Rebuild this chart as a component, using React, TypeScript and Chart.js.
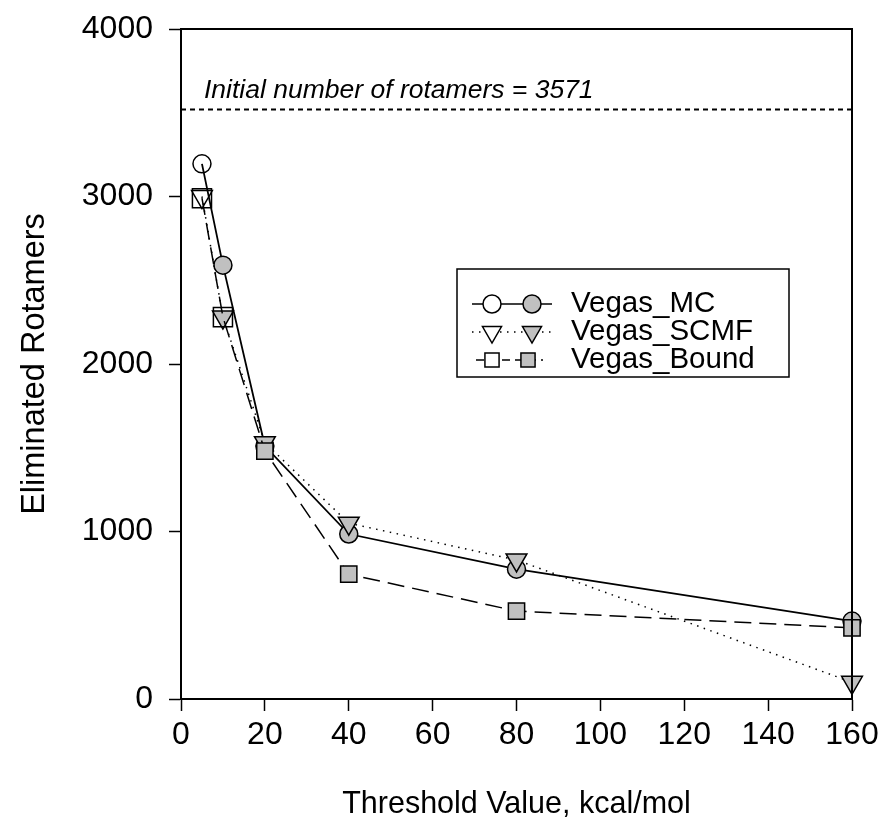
import React, { useEffect, useRef } from 'react';
import { Chart, registerables } from 'chart.js';

Chart.register(...registerables);

// ---- data ----
const thresholds = [5, 10, 20, 40, 80, 160];
const vegasMC = [3195, 2590, 1510, 985, 775, 465];
const vegasSCMF = [3000, 2280, 1530, 1050, 830, 100];
const vegasBound = [2990, 2280, 1480, 745, 525, 425];
const seriesNames = ['Vegas_MC', 'Vegas_SCMF', 'Vegas_Bound'];
const initialLevel = 3520;
const initialLabel = 'Initial number of rotamers = 3571';
const xRange = [0, 160];
const yRange = [0, 4000];
const xStep = 20;
const yStep = 1000;
const xTitle = 'Threshold Value, kcal/mol';
const yTitle = 'Eliminated Rotamers';

const FONT = '"Liberation Sans", Arial, Helvetica, sans-serif';
const GRAY = '#c0c0c0';
const NONE = 'rgba(0,0,0,0)';

function drawMarker(ctx: CanvasRenderingContext2D, style: string, x: number, y: number, r: number, fill: string) {
  ctx.save();
  ctx.beginPath();
  if (style === 'circle') {
    ctx.arc(x, y, r, 0, Math.PI * 2);
  } else if (style === 'rect') {
    const s = r * Math.SQRT1_2;
    ctx.rect(x - s, y - s, 2 * s, 2 * s);
  } else {
    const w = r * Math.sin(Math.PI / 3);
    ctx.moveTo(x - w, y - r / 2);
    ctx.lineTo(x + w, y - r / 2);
    ctx.lineTo(x, y + r);
    ctx.closePath();
  }
  ctx.fillStyle = fill;
  ctx.fill();
  ctx.lineWidth = 1.5;
  ctx.strokeStyle = '#000';
  ctx.stroke();
  ctx.restore();
}

const framePlugin = {
  id: 'frameAndLegend',
  afterDatasetsDraw(chart: any) {
    const { ctx, chartArea, scales } = chart;
    ctx.save();
    ctx.strokeStyle = '#000';
    ctx.lineWidth = 2;
    ctx.strokeRect(chartArea.left, chartArea.top, chartArea.right - chartArea.left, chartArea.bottom - chartArea.top);

    ctx.fillStyle = '#000';
    ctx.font = 'italic 26.5px ' + FONT;
    ctx.textAlign = 'left';
    ctx.textBaseline = 'alphabetic';
    ctx.fillText(initialLabel, chartArea.left + 23, scales.y.getPixelForValue(initialLevel) - 11);

    const bx = 457, by = 269, bw = 332, bh = 108;
    ctx.lineWidth = 1.5;
    ctx.strokeRect(bx, by, bw, bh);
    const rows = [304, 332, 360];
    const styles = ['circle', 'triangle', 'rect'];
    const radii = [9, 11, 10];
    const dashes: number[][] = [[], [1.5, 5.5], [8, 5]];
    for (let i = 0; i < 3; i++) {
      const y = rows[i];
      ctx.save();
      ctx.beginPath();
      ctx.setLineDash(dashes[i]);
      ctx.lineWidth = 1.5;
      ctx.moveTo(i === 2 ? 476 : 472, y);
      ctx.lineTo(i === 2 ? 543 : 552, y);
      ctx.stroke();
      ctx.restore();
      drawMarker(ctx, styles[i], 492, y, radii[i], '#fff');
      drawMarker(ctx, styles[i], i === 2 ? 528 : 532, y, radii[i], GRAY);
      ctx.fillStyle = '#000';
      ctx.font = '29.5px ' + FONT;
      ctx.textBaseline = 'middle';
      ctx.fillText(seriesNames[i], 571, y);
    }
    ctx.restore();
  },
};

export default function App() {
  const ref = useRef<HTMLCanvasElement | null>(null);

  useEffect(() => {
    document.body.style.margin = '0';
    const canvas = ref.current;
    if (!canvas) return;

    const toPts = (ys: number[]) => thresholds.map((x, i) => ({ x, y: ys[i] }));

    const chart = new Chart(canvas, {
      type: 'line',
      data: {
        datasets: [
          {
            label: seriesNames[2],
            data: toPts(vegasBound),
            order: 0,
            borderColor: '#000',
            borderWidth: 1.5,
            borderDash: [17, 8],
            pointStyle: 'rect',
            pointRadius: (c: any) => (c.dataIndex < 2 ? 13.5 : 11.5),
            pointBackgroundColor: (c: any) => (c.dataIndex < 2 ? NONE : GRAY),
            pointBorderColor: '#000',
            pointBorderWidth: 1.5,
            clip: false as any,
            tension: 0,
          },
          {
            label: seriesNames[1],
            data: toPts(vegasSCMF),
            order: 1,
            borderColor: '#000',
            borderWidth: 1.5,
            borderDash: [1.5, 5.5],
            pointStyle: 'triangle',
            rotation: 180,
            pointRadius: 12,
            pointBackgroundColor: (c: any) => (c.dataIndex === 0 ? NONE : GRAY),
            pointBorderColor: '#000',
            pointBorderWidth: 1.5,
            clip: false as any,
            tension: 0,
          },
          {
            label: seriesNames[0],
            data: toPts(vegasMC),
            order: 2,
            borderColor: '#000',
            borderWidth: 1.8,
            pointStyle: 'circle',
            pointRadius: 9,
            pointBackgroundColor: (c: any) => (c.dataIndex === 0 ? NONE : GRAY),
            pointBorderColor: '#000',
            pointBorderWidth: 1.5,
            clip: false as any,
            tension: 0,
          },
          {
            label: 'initial',
            data: [
              { x: xRange[0], y: initialLevel },
              { x: xRange[1], y: initialLevel },
            ],
            order: 3,
            borderColor: '#000',
            borderWidth: 2,
            borderDash: [5, 4],
            pointRadius: 0,
          },
        ],
      },
      options: {
        animation: false,
        responsive: false,
        events: [],
        layout: { padding: { top: 29, right: 37, left: 0, bottom: 0 } },
        plugins: {
          legend: { display: false },
          tooltip: { enabled: false },
        },
        scales: {
          x: {
            type: 'linear',
            min: xRange[0],
            max: xRange[1],
            afterFit: (s: any) => { s.height = 124; s.paddingLeft = 0; s.paddingRight = 0; },
            ticks: { stepSize: xStep, color: '#000', font: { family: FONT, size: 32 }, padding: 5, maxRotation: 0, callback: (v: any) => String(v) },
            grid: { drawOnChartArea: false, drawTicks: true, tickLength: 12, tickColor: '#000', tickWidth: 1.5 },
            border: { color: '#000', width: 2 },
            title: { display: true, text: xTitle, color: '#000', font: { family: FONT, size: 30.5 }, padding: { top: 0, bottom: 0 } },
          },
          y: {
            type: 'linear',
            min: yRange[0],
            max: yRange[1],
            afterFit: (s: any) => { s.width = 181; s.paddingTop = 0; s.paddingBottom = 0; },
            ticks: { stepSize: yStep, color: '#000', font: { family: FONT, size: 32 }, padding: 16, callback: (v: any) => String(v) },
            grid: { drawOnChartArea: false, drawTicks: true, tickLength: 12, tickColor: '#000', tickWidth: 1.5 },
            border: { color: '#000', width: 2 },
            title: { display: true, text: yTitle, color: '#000', font: { family: FONT, size: 32.5 }, padding: { top: 16, bottom: 0 } },
          },
        },
      },
      plugins: [framePlugin],
    });

    return () => chart.destroy();
  }, []);

  return (
    <div style={{ position: 'absolute', left: 0, top: 0, width: 889, height: 823, background: '#fff' }}>
      <canvas ref={ref} width={889} height={823} />
    </div>
  );
}
